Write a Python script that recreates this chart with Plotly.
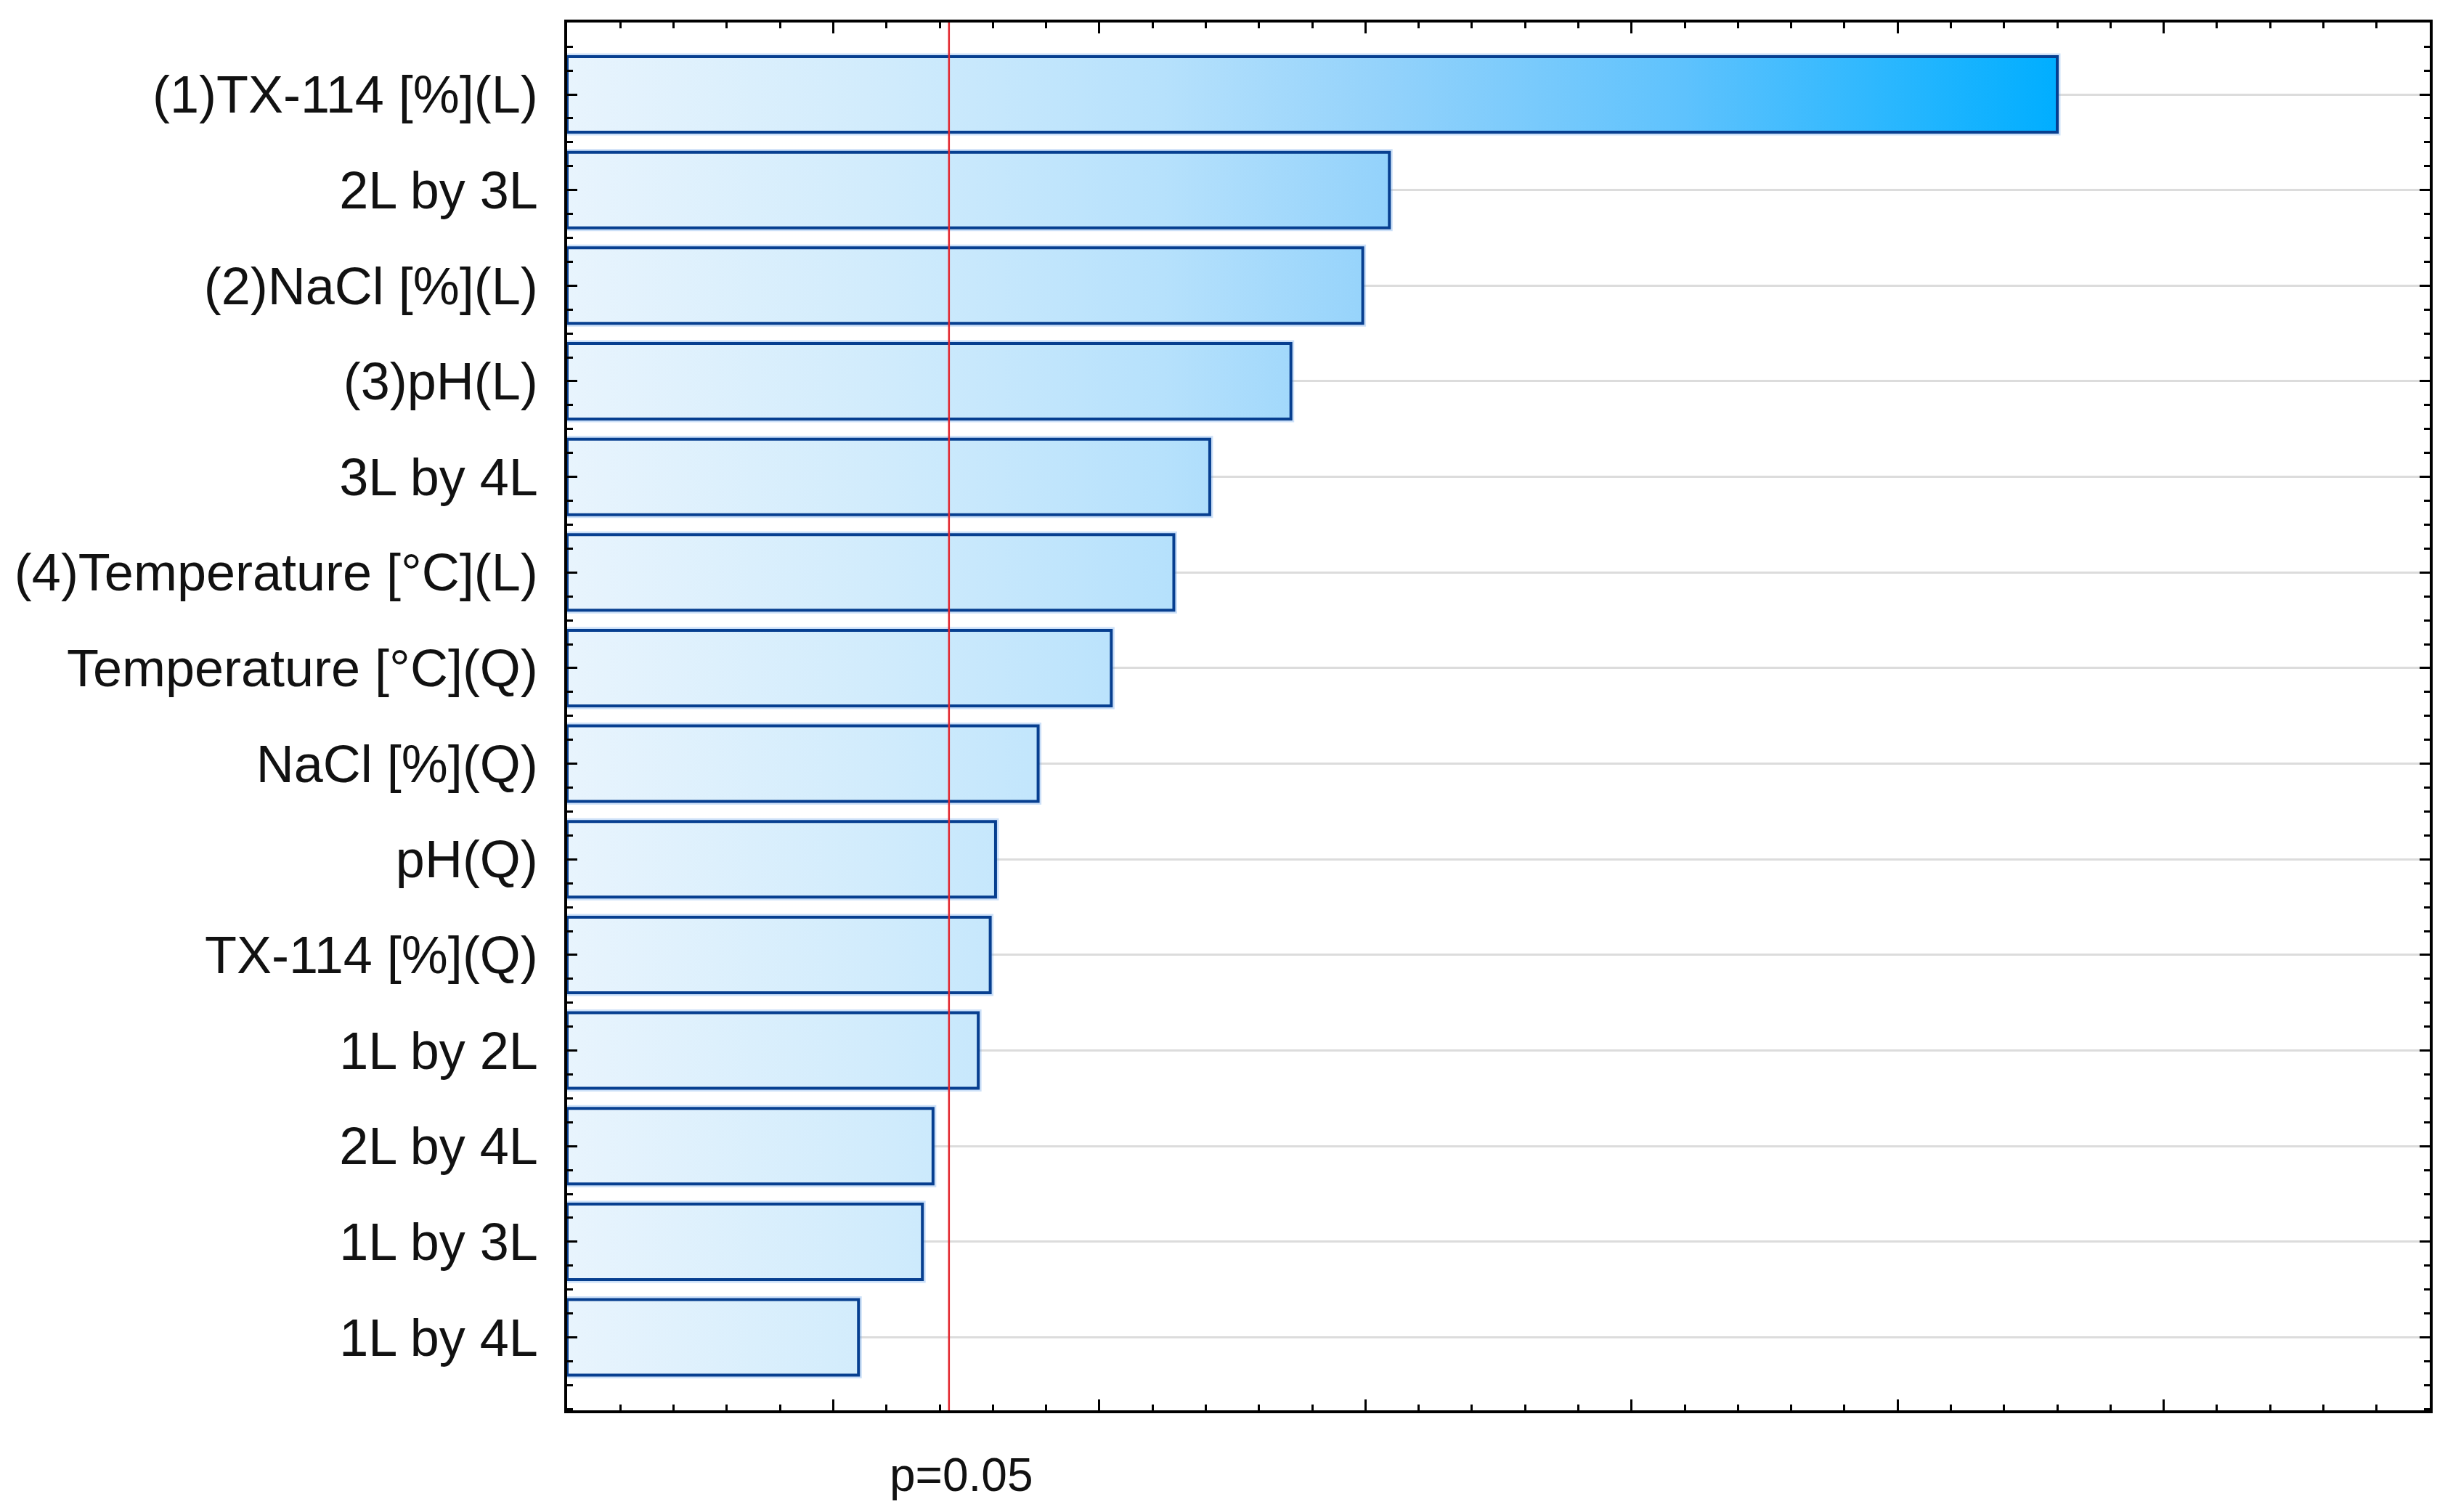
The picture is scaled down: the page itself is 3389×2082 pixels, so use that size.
import plotly.graph_objects as go

# ---- data ----
effect_labels = [
    "(1)TX-114 [%](L)",
    "2L by 3L",
    "(2)NaCl [%](L)",
    "(3)pH(L)",
    "3L by 4L",
    "(4)Temperature [°C](L)",
    "Temperature [°C](Q)",
    "NaCl [%](Q)",
    "pH(Q)",
    "TX-114 [%](Q)",
    "1L by 2L",
    "2L by 4L",
    "1L by 3L",
    "1L by 4L",
]
effect_values = [11.20, 6.18, 5.98, 5.44, 4.83, 4.56, 4.09, 3.54, 3.22, 3.18, 3.09, 2.75, 2.67, 2.19]
p_crit = 2.87
p_label = "p=0.05"

# ---- style ----
FONT = "Arial, Liberation Sans, Helvetica, sans-serif"
BAR_WIDTH = 0.79
OUTLINE = "#073F90"
GRAD = [
    [0.0, "#E8F4FD"],
    [0.2, "#D2ECFC"],
    [0.4, "#B6E1FC"],
    [0.55, "#93D2FB"],
    [0.75, "#5EC2FD"],
    [1.0, "#00AEFF"],
]

fig = go.Figure()
h = BAR_WIDTH / 2
vmax = max(effect_values)
n = len(effect_values)
for i, v in enumerate(effect_values):
    xs = [0, v, v, 0, 0]
    ys = [i - h, i - h, i + h, i + h, i - h]
    # soft glow
    fig.add_trace(go.Scatter(
        x=xs, y=ys, mode="lines",
        line=dict(color="rgba(110,165,235,0.35)", width=9),
        hoverinfo="skip", showlegend=False,
    ))
    fig.add_trace(go.Scatter(
        x=xs, y=ys, mode="lines", fill="toself",
        fillgradient=dict(type="horizontal", colorscale=GRAD, start=0, stop=vmax),
        line=dict(color=OUTLINE, width=4),
        name=effect_labels[i], showlegend=False,
        hovertemplate=f"{effect_labels[i]}: {v}<extra></extra>",
    ))

fig.add_shape(
    type="line", xref="x", yref="paper",
    x0=p_crit, x1=p_crit, y0=0, y1=1,
    line=dict(color="#E3262E", width=2.5), layer="above",
)
fig.add_annotation(
    x=p_crit, xref="x", y=-0.0466, yref="paper",
    text=p_label, showarrow=False, xanchor="center", yanchor="middle",
    xshift=17, font=dict(family=FONT, size=64, color="#111111"),
)

fig.update_layout(
    width=3389, height=2082,
    margin=dict(l=773, r=51, t=23, b=148, pad=0),
    paper_bgcolor="white", plot_bgcolor="white",
    showlegend=False,
    font=dict(family=FONT, color="#111111"),
)
fig.update_xaxes(
    range=[0, 14], showticklabels=False,
    tickmode="linear", tick0=0, dtick=2,
    ticks="inside", ticklen=15, tickwidth=3, tickcolor="black",
    minor=dict(tickmode="linear", tick0=0, dtick=0.4, ticks="inside",
               ticklen=8, tickwidth=2.5, tickcolor="black", showgrid=False),
    showgrid=False, zeroline=False,
    showline=True, linecolor="black", linewidth=3.5, mirror="allticks",
)
fig.update_yaxes(
    range=[n - 1 + 0.763, -0.752],
    tickmode="array", tickvals=list(range(n)), ticktext=effect_labels,
    tickfont=dict(family=FONT, size=72, color="#111111"),
    ticks="inside", ticklen=14, tickwidth=3, tickcolor="black",
    ticklabelstandoff=22,
    minor=dict(tickmode="linear", tick0=0, dtick=0.25, ticks="inside",
               ticklen=8, tickwidth=2.5, tickcolor="black", showgrid=False),
    showgrid=True, gridcolor="#DCDCDC", gridwidth=3,
    zeroline=False,
    showline=True, linecolor="black", linewidth=3.5, mirror="allticks",
)

fig.write_html("out.html")
